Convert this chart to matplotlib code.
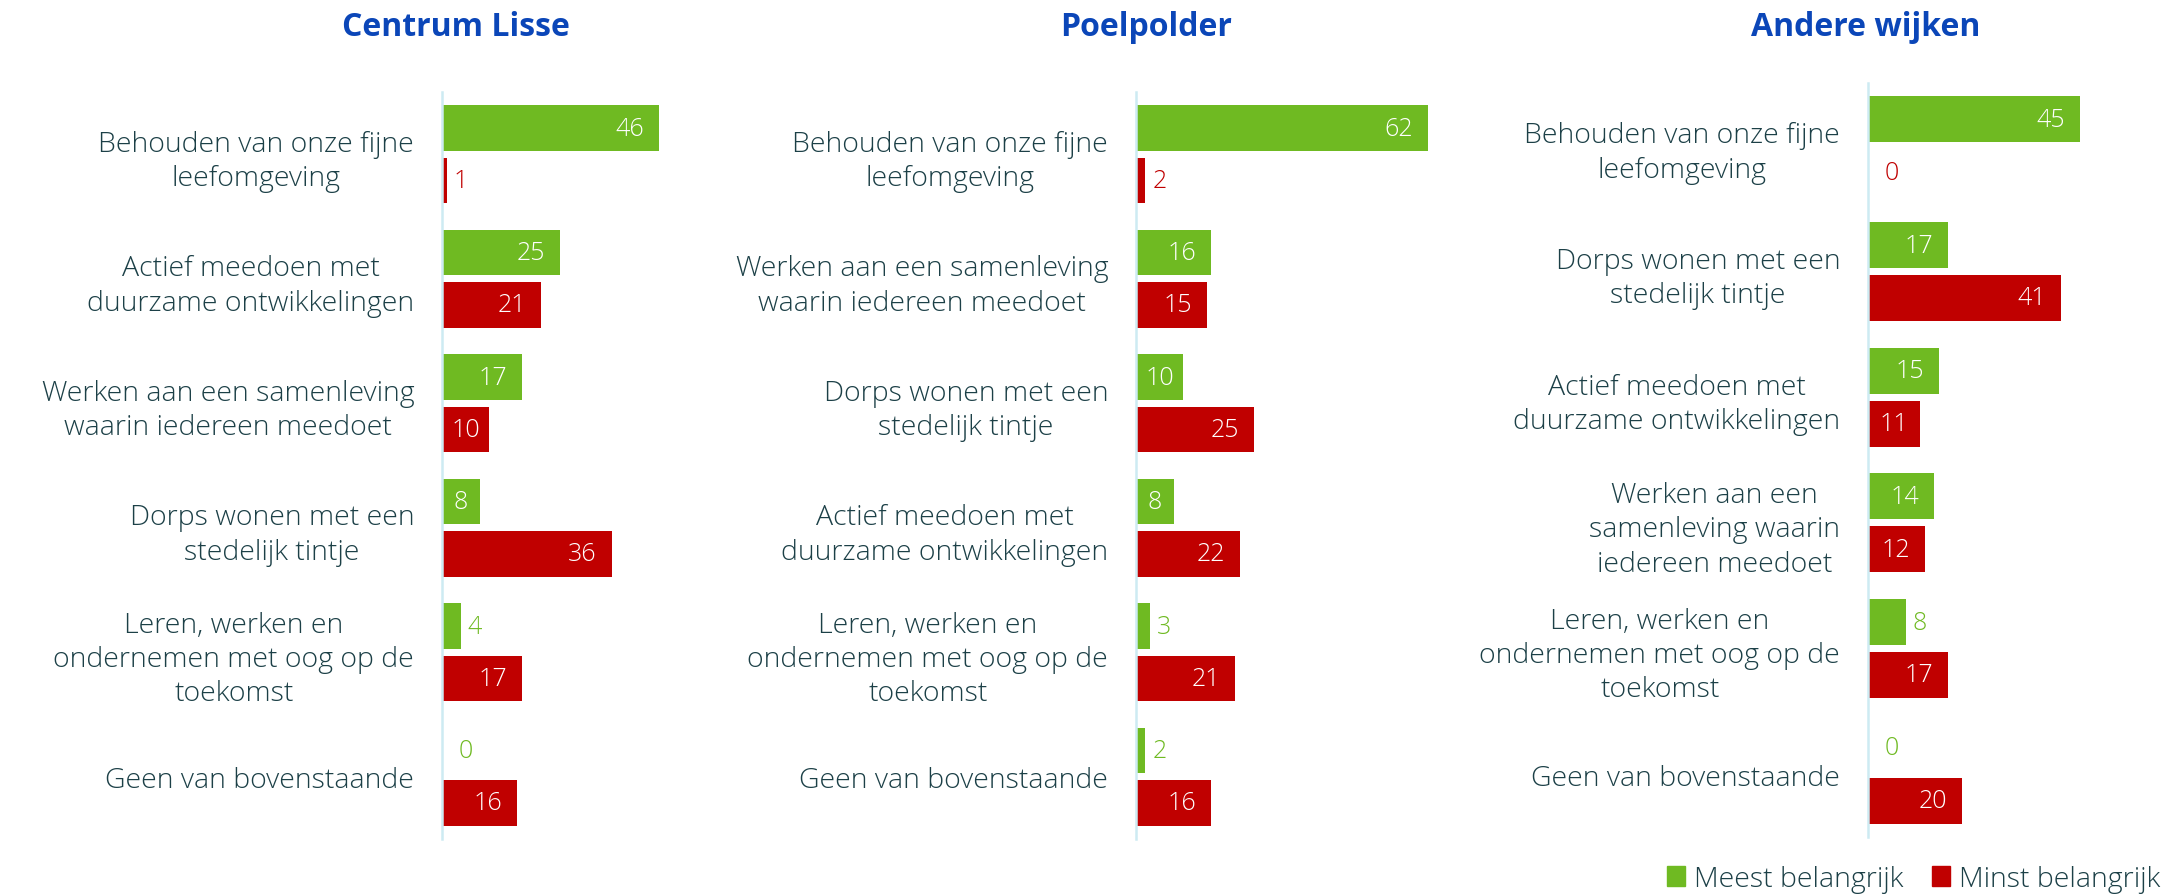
import numpy as np
import matplotlib.pyplot as plt
from matplotlib.patches import Patch

plt.rcParams['font.family'] = ['Open Sans', 'DejaVu Sans']

# data
panels = ['Centrum Lisse', 'Poelpolder', 'Andere wijken']

labels_centrum = ['Behouden van onze fijne\nleefomgeving',
                  'Actief meedoen met\nduurzame ontwikkelingen',
                  'Werken aan een samenleving\nwaarin iedereen meedoet',
                  'Dorps wonen met een\nstedelijk tintje',
                  'Leren, werken en\nondernemen met oog op de\ntoekomst',
                  'Geen van bovenstaande']
meest_centrum = [46, 25, 17, 8, 4, 0]
minst_centrum = [1, 21, 10, 36, 17, 16]

labels_poel = ['Behouden van onze fijne\nleefomgeving',
               'Werken aan een samenleving\nwaarin iedereen meedoet',
               'Dorps wonen met een\nstedelijk tintje',
               'Actief meedoen met\nduurzame ontwikkelingen',
               'Leren, werken en\nondernemen met oog op de\ntoekomst',
               'Geen van bovenstaande']
meest_poel = [62, 16, 10, 8, 3, 2]
minst_poel = [2, 15, 25, 22, 21, 16]

labels_andere = ['Behouden van onze fijne\nleefomgeving',
                 'Dorps wonen met een\nstedelijk tintje',
                 'Actief meedoen met\nduurzame ontwikkelingen',
                 'Werken aan een\nsamenleving waarin\niedereen meedoet',
                 'Leren, werken en\nondernemen met oog op de\ntoekomst',
                 'Geen van bovenstaande']
meest_andere = [45, 17, 15, 14, 8, 0]
minst_andere = [0, 41, 11, 12, 17, 20]

series = [(labels_centrum, meest_centrum, minst_centrum),
          (labels_poel, meest_poel, minst_poel),
          (labels_andere, meest_andere, minst_andere)]

GREEN = '#6fba22'
RED = '#c00000'
TEXT = '#1c4047'
TITLE = '#0b46b8'
AXLINE = '#cdebf2'

W, H = 2165, 895
fig = plt.figure(figsize=(W / 100, H / 100), dpi=100)

axis_x = [442, 1136, 1868]
tops = [93, 93, 84]
bottoms = [840, 840, 838]
title_dx = [14, 10, -2]
inside_min = [8, 8, 9]
xmax = 62
ppu = 4.71  # px per unit

for i, (labels, meest, minst) in enumerate(series):
    x0 = axis_x[i]
    ax = fig.add_axes([x0 / W, (H - bottoms[i]) / H, xmax * ppu / W, (bottoms[i] - tops[i]) / H])
    y = np.arange(len(labels))
    ax.barh(y - 0.21, meest, height=0.366, color=GREEN)
    ax.barh(y + 0.21, minst, height=0.366, color=RED)
    ax.set_xlim(0, xmax)
    ax.set_ylim(len(labels) - 0.5, -0.5)
    for s in ['top', 'right', 'bottom']:
        ax.spines[s].set_visible(False)
    ax.spines['left'].set_color(AXLINE)
    ax.spines['left'].set_linewidth(1.8)
    ax.set_xticks([])
    ax.set_yticks(y)
    ax.set_yticklabels(labels, fontsize=20.5, color=TEXT, fontweight=300, linespacing=1.3)
    for t in ax.get_yticklabels():
        t.set_multialignment('center')
    ax.tick_params(axis='y', length=0, pad=20)

    for vals, off, col in [(meest, -0.21, GREEN), (minst, 0.21, RED)]:
        for yy, v in zip(y, vals):
            if v >= inside_min[i]:
                ax.annotate(str(v), xy=(max(v - 6.2, v / 2), yy + off), ha='center', va='center',
                            color='white', fontsize=18, fontweight=300)
            else:
                ax.annotate(str(v), xy=(v, yy + off), xytext=(12 if v == 0 else 5, 0),
                            textcoords='offset points', ha='left', va='center',
                            color=col, fontsize=18, fontweight=300)

    fig.text((x0 + title_dx[i]) / W, 1 - 28 / H, panels[i], ha='center', va='center',
             color=TITLE, fontsize=23, fontweight='bold')

handles = [Patch(color=GREEN, label='Meest belangrijk'), Patch(color=RED, label='Minst belangrijk')]
leg = fig.legend(handles=handles, loc='center right', bbox_to_anchor=(1 - 5 / W, 15 / H),
                 ncol=2, frameon=False, fontsize=20.5, handlelength=0.65, handleheight=0.65,
                 handletextpad=0.3, columnspacing=1.0, borderpad=0, borderaxespad=0)
for t in leg.get_texts():
    t.set_color(TEXT)
    t.set_fontweight(300)

fig.savefig('out.png', dpi=100)
